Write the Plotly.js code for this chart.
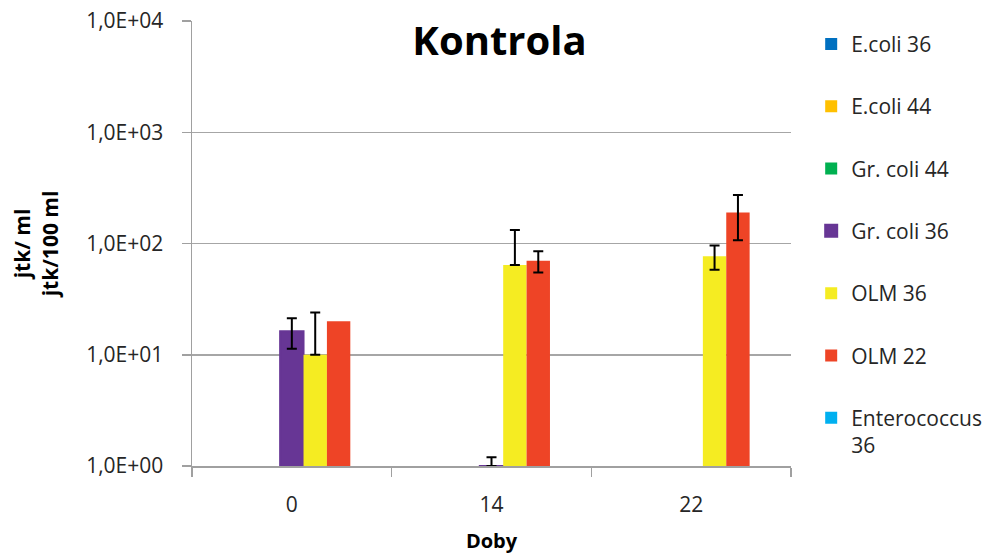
<!DOCTYPE html>
<html>
<head>
<meta charset="utf-8">
<script src="https://cdn.plot.ly/plotly-3.0.1.min.js"></script>
<style>html,body{margin:0;padding:0;background:#fff;}#chart{width:999px;height:554px;}</style>
</head>
<body>
<div id="chart"></div>
<script>
const categories = ["0", "14", "22"];
const seriesNames = ["E.coli 36", "E.coli 44", "Gr. coli 44", "Gr. coli 36", "OLM 36", "OLM 22", "Enterococcus<br>36"];
const seriesColors = ["#0070C0", "#FFC000", "#00B050", "#673695", "#F5EC22", "#EE4426", "#00B0F0"];

const eColi36 = [null, null, null];
const eColi44 = [null, null, null];
const grColi44 = [null, null, null];
const grColi36 = [16.3, 1, null];
const olm36 = [10, 64, 77];
const olm22 = [20, 70, 190];
const enterococcus36 = [null, null, null];

const grColi36ErrPlus = [5, 0.2, NaN];
const grColi36ErrMinus = [5, 0, NaN];
const olm36ErrPlus = [14, 68, 19];
const olm36ErrMinus = [0, 0, 19];
const olm22ErrPlus = [NaN, 15, 83];
const olm22ErrMinus = [NaN, 15, 83];

const yTickVals = [1, 10, 100, 1000, 10000];
const yTickText = ["1,0E+00", "1,0E+01", "1,0E+02", "1,0E+03", "1,0E+04"];

const values = [eColi36, eColi44, grColi44, grColi36, olm36, olm22, enterococcus36];
const errPlus = [null, null, null, grColi36ErrPlus, olm36ErrPlus, olm22ErrPlus, null];
const errMinus = [null, null, null, grColi36ErrMinus, olm36ErrMinus, olm22ErrMinus, null];

const FONT = "Open Sans, Noto Sans, sans-serif";

const traces = seriesNames.map((name, i) => {
  const t = {
    type: "bar",
    name: name,
    x: categories,
    y: values[i],
    legendgroup: "g" + i,
    marker: { color: seriesColors[i], line: { width: 0 } }
  };
  if (i === 3) t.marker.line = { width: 2, color: seriesColors[i] };
  if (errPlus[i]) {
    t.error_y = {
      type: "data",
      symmetric: false,
      array: errPlus[i],
      arrayminus: errMinus[i],
      color: "#000000",
      thickness: 2,
      width: 5
    };
  }
  return t;
});

const layout = {
  width: 999,
  height: 554,
  paper_bgcolor: "#ffffff",
  plot_bgcolor: "#ffffff",
  margin: { l: 192, r: 208, t: 21, b: 88 },
  font: { family: FONT, color: "#262626" },
  barmode: "group",
  bargap: 0.18,
  bargroupgap: 0,
  title: {
    text: "<b>Kontrola</b>",
    font: { family: FONT, size: 40, color: "#000000" },
    xref: "container", x: 0.5, xanchor: "center",
    yref: "container", y: 0.926, yanchor: "middle"
  },
  xaxis: {
    type: "category",
    showline: true, linecolor: "#A0A0A0", linewidth: 1.5,
    ticks: "outside", tickson: "boundaries", ticklen: 9, tickcolor: "#A0A0A0", tickwidth: 1.5,
    ticklabelstandoff: 19,
    tickfont: { family: FONT, size: 21, color: "#262626" },
    showgrid: false,
    title: { text: "<b>Doby</b>", font: { family: FONT, size: 20, color: "#000000" }, standoff: 20 }
  },
  yaxis: {
    type: "log",
    range: [0, 4],
    tickvals: yTickVals,
    ticktext: yTickText,
    showline: true, linecolor: "#A0A0A0", linewidth: 1.5,
    ticks: "outside", ticklen: 9, tickcolor: "#A0A0A0", tickwidth: 1.5,
    ticklabelstandoff: 14,
    tickfont: { family: FONT, size: 21, color: "#262626" },
    showgrid: true, gridcolor: "#A6A6A6", gridwidth: 1.5,
    zeroline: false,
    title: { text: "<b>jtk/ ml<br>jtk/100 ml</b>", font: { family: FONT, size: 21, color: "#000000" }, standoff: 22 }
  },
  showlegend: true,
  legend: {
    xref: "container", x: 0.812, xanchor: "left",
    yref: "container", y: 0.957, yanchor: "top",
    font: { family: FONT, size: 21, color: "#262626" },
    tracegroupgap: 32,
    itemwidth: 30,
    valign: "top",
    maxheight: 540,
    bgcolor: "rgba(0,0,0,0)"
  }
};

Plotly.newPlot("chart", traces, layout, { displayModeBar: false, staticPlot: true });
</script>
</body>
</html>
